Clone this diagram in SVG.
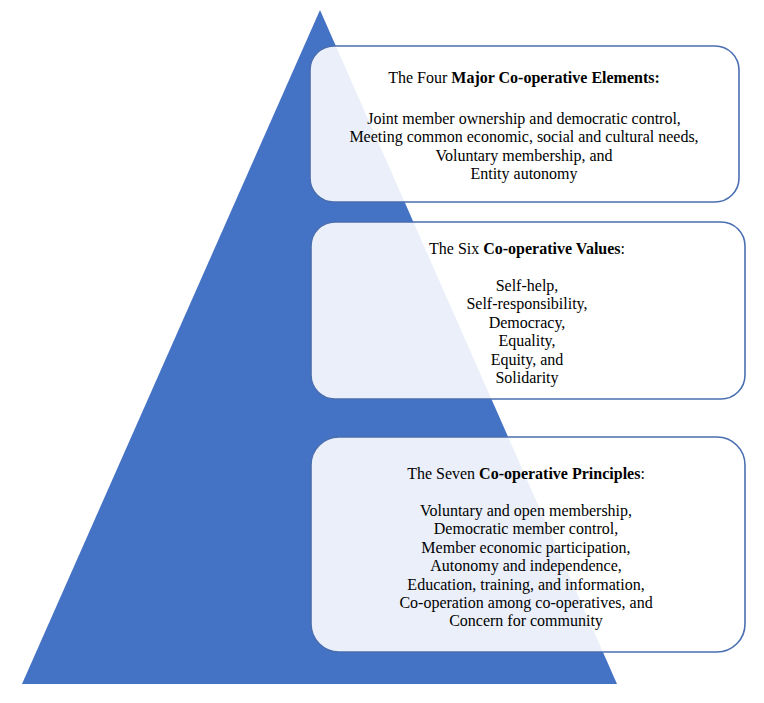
<svg xmlns="http://www.w3.org/2000/svg" width="764" height="703" viewBox="0 0 764 703">
<style>
.box{fill:#FFFFFF;fill-opacity:0.89;stroke:#4A6FB0;stroke-width:1.6}
text{font-family:"Liberation Serif","Times New Roman",serif;font-size:16px;fill:#000;text-anchor:middle}
.b{font-weight:bold}
</style>
<rect width="764" height="703" fill="#FFFFFF"/>
<g id="pyramid">
<polygon points="320,10 22,684 617,684" fill="#4472C4"/>
</g>
<g id="connectors"></g>
<g id="elements">
<rect class="box" x="310" y="46" width="429" height="156" rx="24"/>
<text x="524" y="83">The Four <tspan class="b">Major Co-operative Elements:</tspan></text>
<text x="524" y="124">Joint member ownership and democratic control,</text>
<text x="524" y="142.4">Meeting common economic, social and cultural needs,</text>
<text x="524" y="160.8">Voluntary membership, and</text>
<text x="524" y="179.2">Entity autonomy</text>
</g>
<g id="values">
<rect class="box" x="311" y="222" width="434" height="177" rx="24"/>
<text x="527" y="254">The Six <tspan class="b">Co-operative Values</tspan>:</text>
<text x="527" y="291">Self-help,</text>
<text x="527" y="309.4">Self-responsibility,</text>
<text x="527" y="327.8">Democracy,</text>
<text x="527" y="346.2">Equality,</text>
<text x="527" y="364.6">Equity, and</text>
<text x="527" y="383">Solidarity</text>
</g>
<g id="principles">
<rect class="box" x="311" y="437" width="434" height="215" rx="28"/>
<text x="526" y="479">The Seven <tspan class="b">Co-operative Principles</tspan>:</text>
<text x="526" y="516">Voluntary and open membership,</text>
<text x="526" y="534.4">Democratic member control,</text>
<text x="526" y="552.8">Member economic participation,</text>
<text x="526" y="571.2">Autonomy and independence,</text>
<text x="526" y="589.6">Education, training, and information,</text>
<text x="526" y="608">Co-operation among co-operatives, and</text>
<text x="526" y="626.4">Concern for community</text>
</g>
</svg>
